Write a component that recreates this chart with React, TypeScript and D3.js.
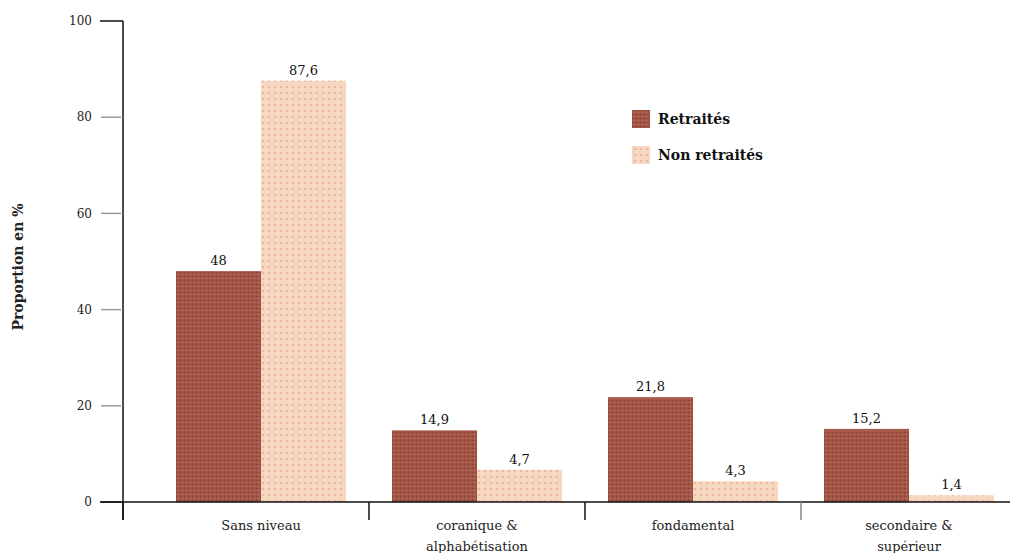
import React from "react";
import * as d3 from "d3";

const categories: string[][] = [
  ["Sans niveau"],
  ["coranique &", "alphabétisation"],
  ["fondamental"],
  ["secondaire &", "supérieur"],
];
const series = ["Retraités", "Non retraités"];
const retraites = [48, 14.9, 21.8, 15.2];
const nonRetraites = [87.6, 6.7, 4.3, 1.4];
const retraitesLabels = ["48", "14,9", "21,8", "15,2"];
const nonRetraitesLabels = ["87,6", "4,7", "4,3", "1,4"];
const yTicks = [0, 20, 40, 60, 80, 100];

const W = 1016;
const H = 553;
const FONT = "'DejaVu Serif', serif";
const fs = { fontFamily: FONT };

export default function App() {
  const axisX = 123;
  const y = d3.scaleLinear().domain([0, 100]).range([502, 21]);
  const keys = categories.map((c) => c.join(" "));
  const x = d3
    .scaleBand<string>()
    .domain(keys)
    .range([153, 1017])
    .paddingInner(0.213)
    .paddingOuter(0.1065);
  const xs = d3.scaleBand<string>().domain(series).range([0, x.bandwidth()]);
  const vals = [retraites, nonRetraites];
  const labs = [retraitesLabels, nonRetraitesLabels];
  const fills = ["url(#patDark)", "url(#patLight)"];
  const centers = keys.map((k) => (x(k) as number) + x.bandwidth() / 2);
  const seps = [axisX, ...centers.slice(1).map((c, i) => (c + centers[i]) / 2)];

  return (
    <svg
      width={W}
      height={H}
      style={{ position: "absolute", left: 0, top: 0, background: "#fff", fontFamily: FONT }}
    >
      <defs>
        <pattern id="patDark" width="4" height="4" patternUnits="userSpaceOnUse">
          <rect width="4" height="4" fill="#a35646" />
          <rect x="0" y="0" width="1" height="1" fill="#7e3c30" />
          <rect x="2" y="2" width="1" height="1" fill="#c07a68" />
        </pattern>
        <pattern id="patLight" width="6" height="6" patternUnits="userSpaceOnUse">
          <rect width="6" height="6" fill="#f6d8c1" />
          <rect x="2" y="2" width="2" height="2" fill="#eeb3a3" />
        </pattern>
      </defs>

      <text
        transform={`translate(23,267) rotate(-90)`}
        textAnchor="middle"
        fontSize={14}
        fontWeight="bold"
        fill="#222"
        style={fs}
      >
        Proportion en %
      </text>

      {yTicks.map((t) => (
        <g key={t}>
          <line
            x1={t === 100 ? 100 : 101}
            x2={t === 100 ? axisX : 121}
            y1={y(t)}
            y2={y(t)}
            stroke={t === 100 || t === 0 ? "#111" : "#999"}
            strokeWidth={1.5}
          />
          <text x={92} y={y(t)} dy="0.35em" textAnchor="end" fontSize={12} fill="#222" style={fs}>
            {t}
          </text>
        </g>
      ))}

      {keys.map((k, i) => (
        <g key={k} transform={`translate(${x(k)},0)`}>
          {series.map((s, j) => {
            const v = vals[j][i];
            const bx = xs(s) as number;
            return (
              <g key={s}>
                <rect
                  x={bx}
                  y={y(v)}
                  width={xs.bandwidth()}
                  height={y(0) - y(v)}
                  fill={fills[j]}
                />
                <text
                  x={bx + xs.bandwidth() / 2}
                  y={y(v) - 6}
                  textAnchor="middle"
                  fontSize={13}
                  fill="#111"
                  style={fs}
                >
                  {labs[j][i]}
                </text>
              </g>
            );
          })}
        </g>
      ))}

      <line x1={axisX} x2={axisX} y1={y(100)} y2={520} stroke="#111" strokeWidth={1.5} />
      <line x1={100} x2={1010} y1={y(0)} y2={y(0)} stroke="#111" strokeWidth={1.5} />
      {seps.map((sx, i) => (
        <line
          key={i}
          x1={sx}
          x2={sx}
          y1={y(0)}
          y2={520}
          stroke={i === 3 ? "#888" : "#111"}
          strokeWidth={1.5}
        />
      ))}

      {categories.map((c, i) => (
        <text key={i} x={centers[i]} y={530} textAnchor="middle" fontSize={13} fill="#222" style={fs}>
          {c.map((line, li) => (
            <tspan key={li} x={centers[i]} dy={li === 0 ? 0 : 21}>
              {line}
            </tspan>
          ))}
        </text>
      ))}

      {series.map((s, j) => (
        <g key={s} transform={`translate(632,${110 + j * 36})`}>
          <rect width={18} height={18} fill={fills[j]} />
          <text x={26} y={9} dy="0.35em" fontSize={14} fontWeight="bold" fill="#111" style={fs}>
            {s}
          </text>
        </g>
      ))}
    </svg>
  );
}
